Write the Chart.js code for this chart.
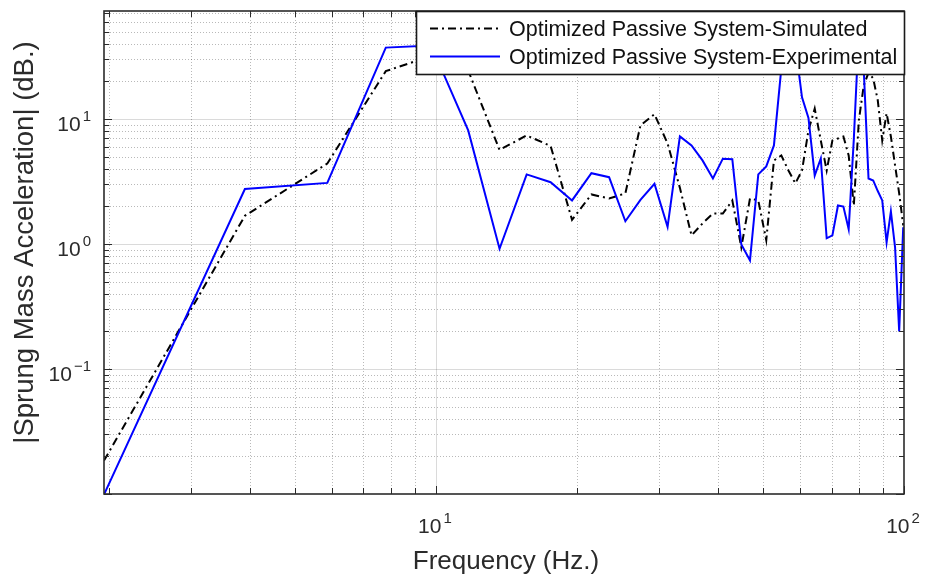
<!DOCTYPE html>
<html>
<head>
<meta charset="utf-8">
<script src="https://cdn.jsdelivr.net/npm/chart.js@4/dist/chart.umd.min.js"></script>
<style>
  html, body { margin: 0; padding: 0; background: #ffffff; }
  #wrap { width: 936px; height: 575px; }
</style>
</head>
<body>
<div id="wrap"><canvas id="c" width="936" height="575"></canvas></div>
<script>
// Frequency bins (Hz)
const frequency = [
  1.953125, 3.90625, 5.859375, 7.8125, 9.765625, 11.71875, 13.671875, 15.625, 17.578125, 19.53125,
  21.484375, 23.4375, 25.390625, 27.34375, 29.296875, 31.25, 33.203125, 35.15625, 37.109375, 39.0625,
  41.015625, 42.96875, 44.921875, 46.875, 48.828125, 50.78125, 52.734375, 54.6875, 56.640625, 58.59375,
  60.546875, 62.5, 64.453125, 66.40625, 68.359375, 70.3125, 72.265625, 74.21875, 76.171875, 78.125,
  80.078125, 82.03125, 83.984375, 85.9375, 87.890625, 89.84375, 91.796875, 93.75, 95.703125, 97.65625,
  99.609375
];

// |Sprung mass acceleration| — simulated response
const simulated = [
  0.0185, 1.68, 4.4, 24.1, 31.9, 24.4, 5.65, 7.38, 6.08, 1.56,
  2.49, 2.31, 2.54, 8.87, 10.9, 6.37, 2.81, 1.17, 1.46, 1.75,
  1.75, 2.23, 0.94, 2.31, 2.23, 1.07, 4.66, 5.11, 3.87, 3.05,
  3.87, 8.09, 12.1, 6.73, 3.87, 6.73, 6.98, 7.24, 5.11, 2.03,
  9.73, 18.5, 23.5, 21.1, 14.1, 6.73, 11.1, 7.24, 4.25, 2.54,
  1.41
];

// |Sprung mass acceleration| — experimental response
const experimental = [
  0.0099, 2.75, 3.08, 37.2, 38.7, 8.1, 0.915, 3.60, 3.12, 2.23,
  3.68, 3.42, 1.52, 2.25, 3.03, 1.37, 7.24, 6.14, 4.66, 3.34,
  4.81, 4.77, 0.99, 0.738, 3.60, 4.17, 6.14, 25.4, 70, 38.7,
  14.9, 10.2, 3.53, 4.83, 1.11, 1.17, 2.03, 1.99, 1.31, 6.9,
  50, 25, 3.34, 3.22, 2.65, 2.23, 1.03, 1.82, 0.94, 0.20,
  1.36
];

// Axis limits and labelled ticks
const xLimits = [1.953125, 100];
const yLimits = [0.01, 73];
const xTickValues = [10, 100];
const yTickValues = [0.1, 1, 10];

const seriesNames = ['Optimized Passive System-Simulated', 'Optimized Passive System-Experimental'];
const xTitle = 'Frequency (Hz.)';
const yTitle = '|Sprung Mass Acceleration| (dB.)';

const INK = '#2b2b2b';
const FONT = '"Liberation Sans", Arial, Helvetica, sans-serif';
const SIM_DASH = [8, 4, 2, 4];

// decade and 2..9 sub-decade positions inside a range
function logPositions(lo, hi) {
  const out = [];
  for (let e = Math.floor(Math.log10(lo)); e <= Math.ceil(Math.log10(hi)); e++) {
    for (let m = 1; m <= 9; m++) {
      const v = m * Math.pow(10, e);
      if (v >= lo * 0.9999 && v <= hi * 1.0001) out.push({ v, major: m === 1 });
    }
  }
  return out;
}

function drawPower(ctx, exp, x, yBase, align) {
  const mainFont = '21px ' + FONT;
  const supFont = '15px ' + FONT;
  ctx.font = mainFont;
  const wMain = ctx.measureText('10').width;
  ctx.font = supFont;
  const wSup = ctx.measureText(exp).width;
  const gap = 2;
  const total = wMain + gap + wSup;
  const left = align === 'center' ? x - total / 2 : x - total;
  ctx.fillStyle = INK;
  ctx.textAlign = 'left';
  ctx.textBaseline = 'alphabetic';
  ctx.font = mainFont;
  ctx.fillText('10', left, yBase);
  ctx.font = supFont;
  ctx.fillText(exp, left + wMain + gap, yBase - 10);
}

const axesFrame = {
  id: 'axesFrame',
  beforeDatasetsDraw(chart) {
    const { ctx, chartArea: a, scales: { x, y } } = chart;
    ctx.save();
    ctx.lineWidth = 1;
    // vertical grid
    logPositions(xLimits[0], xLimits[1]).forEach(t => {
      const px = Math.round(x.getPixelForValue(t.v)) + 0.5;
      if (px <= a.left + 1 || px >= a.right - 1) return;
      ctx.setLineDash(t.major ? [] : [1, 2]);
      ctx.strokeStyle = t.major ? 'rgba(38,38,38,0.17)' : 'rgba(38,38,38,0.32)';
      ctx.beginPath(); ctx.moveTo(px, a.top); ctx.lineTo(px, a.bottom); ctx.stroke();
    });
    // horizontal grid
    logPositions(yLimits[0], yLimits[1]).forEach(t => {
      const py = Math.round(y.getPixelForValue(t.v)) + 0.5;
      if (py <= a.top + 1 || py >= a.bottom - 1) return;
      ctx.setLineDash(t.major ? [] : [1, 2]);
      ctx.strokeStyle = t.major ? 'rgba(38,38,38,0.17)' : 'rgba(38,38,38,0.32)';
      ctx.beginPath(); ctx.moveTo(a.left, py); ctx.lineTo(a.right, py); ctx.stroke();
    });
    ctx.restore();
  },
  afterDatasetsDraw(chart) {
    const { ctx, chartArea: a, scales: { x, y } } = chart;
    ctx.save();
    ctx.setLineDash([]);
    ctx.strokeStyle = INK;
    // inward tick marks on all four sides
    ctx.lineWidth = 1;
    logPositions(xLimits[0], xLimits[1]).forEach(t => {
      const px = Math.round(x.getPixelForValue(t.v)) + 0.5;
      const len = t.major ? 8 : 6;
      ctx.beginPath();
      ctx.moveTo(px, a.bottom); ctx.lineTo(px, a.bottom - len);
      ctx.moveTo(px, a.top); ctx.lineTo(px, a.top + len);
      ctx.stroke();
    });
    logPositions(yLimits[0], yLimits[1]).forEach(t => {
      const py = Math.round(y.getPixelForValue(t.v)) + 0.5;
      const len = t.major ? 8 : 5;
      ctx.beginPath();
      ctx.moveTo(a.left, py); ctx.lineTo(a.left + len, py);
      ctx.moveTo(a.right, py); ctx.lineTo(a.right - len, py);
      ctx.stroke();
    });
    // axes box
    ctx.lineWidth = 1.6;
    ctx.strokeRect(a.left, a.top, a.right - a.left, a.bottom - a.top);

    // tick labels
    xTickValues.forEach(v => {
      drawPower(ctx, String(Math.round(Math.log10(v))), x.getPixelForValue(v) - 1, a.bottom + 39, 'center');
    });
    yTickValues.forEach(v => {
      const e = Math.round(Math.log10(v));
      drawPower(ctx, e < 0 ? '\u2212' + (-e) : String(e), a.left - 13, y.getPixelForValue(v) + 12, 'right');
    });

    // axis titles
    ctx.fillStyle = INK;
    ctx.textAlign = 'center';
    ctx.textBaseline = 'alphabetic';
    ctx.font = '26px ' + FONT;
    ctx.fillText(xTitle, (a.left + a.right) / 2 + 2, 569);
    ctx.save();
    ctx.font = '27.5px ' + FONT;
    ctx.translate(33, (a.top + a.bottom) / 2 - 10);
    ctx.rotate(-Math.PI / 2);
    ctx.fillText(yTitle, 0, 0);
    ctx.restore();

    // legend box
    const lx = 416, ly = 11, lw = 489, lh = 63;
    ctx.fillStyle = '#ffffff';
    ctx.fillRect(lx, ly, lw, lh);
    ctx.lineWidth = 1.6;
    ctx.strokeStyle = '#1a1a1a';
    ctx.strokeRect(lx + 0.5, ly + 0.5, lw - 1, lh);
    const rows = [
      { y: 28.5, color: '#000000', dash: SIM_DASH, text: seriesNames[0] },
      { y: 56.5, color: '#0000ff', dash: [], text: seriesNames[1] }
    ];
    rows.forEach(r => {
      ctx.strokeStyle = r.color;
      ctx.lineWidth = 2;
      ctx.setLineDash(r.dash);
      ctx.beginPath(); ctx.moveTo(430, r.y); ctx.lineTo(500, r.y); ctx.stroke();
      ctx.setLineDash([]);
      ctx.fillStyle = '#111111';
      ctx.font = '21.5px ' + FONT;
      ctx.textAlign = 'left';
      ctx.textBaseline = 'alphabetic';
      ctx.fillText(r.text, 509, r.y + 7.5);
    });
    ctx.restore();
  }
};

const toPoints = vals => frequency.map((f, i) => ({ x: f, y: vals[i] }));

new Chart(document.getElementById('c'), {
  type: 'line',
  data: {
    datasets: [
      {
        label: seriesNames[0],
        data: toPoints(simulated),
        borderColor: '#000000',
        borderWidth: 2,
        borderDash: SIM_DASH,
        pointRadius: 0,
        tension: 0,
        fill: false,
        order: 1
      },
      {
        label: seriesNames[1],
        data: toPoints(experimental),
        borderColor: '#0000ff',
        borderWidth: 2,
        pointRadius: 0,
        tension: 0,
        fill: false,
        order: 0
      }
    ]
  },
  options: {
    responsive: false,
    animation: false,
    devicePixelRatio: 1,
    layout: { padding: { left: 104, top: 11, right: 32, bottom: 81 } },
    scales: {
      x: { type: 'logarithmic', display: false, min: xLimits[0], max: xLimits[1] },
      y: { type: 'logarithmic', display: false, min: yLimits[0], max: yLimits[1] }
    },
    plugins: { legend: { display: false }, tooltip: { enabled: false } }
  },
  plugins: [axesFrame]
});
</script>
</body>
</html>
